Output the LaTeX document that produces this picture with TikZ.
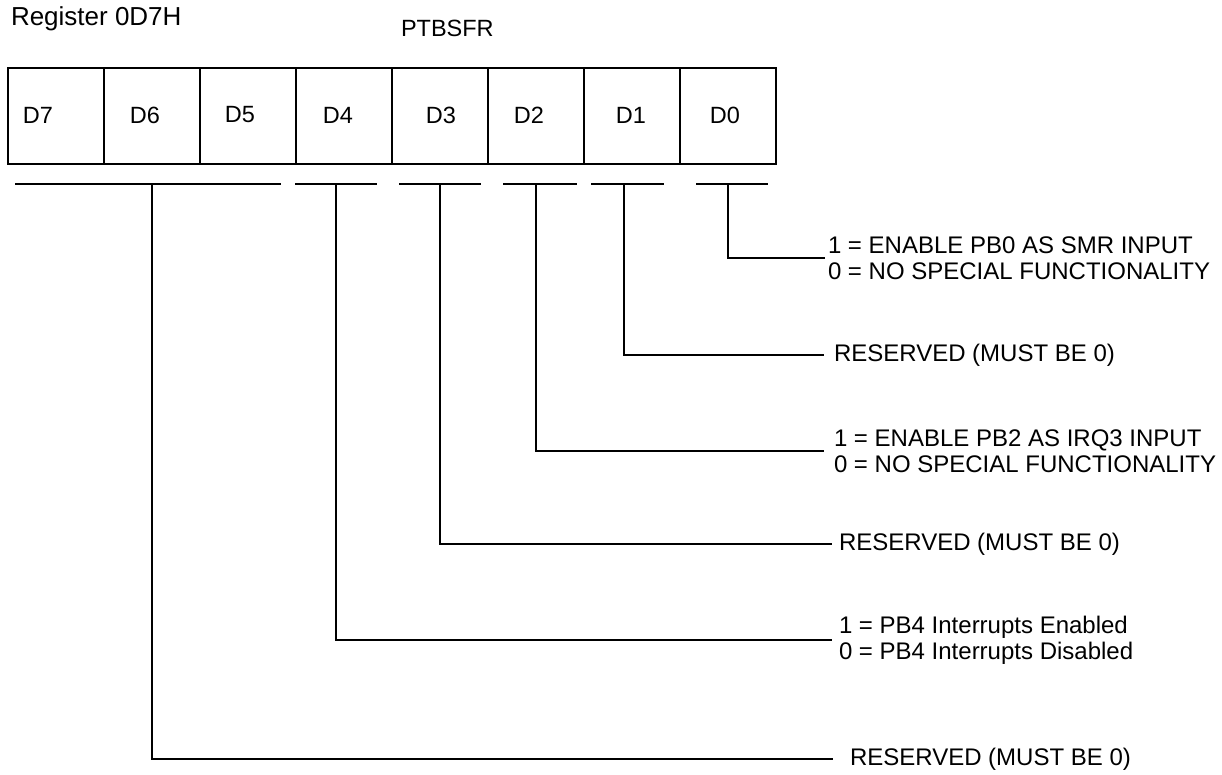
\documentclass[tikz,border=0pt]{standalone}
\usepackage{fontspec}
\setmainfont{Liberation Sans}
\usetikzlibrary{positioning}

\begin{document}
\begin{tikzpicture}[
        x=0.5pt, y=-0.5pt,
        line width=1pt,
        every node/.style={font=\fontsize{11.75}{12.5}\selectfont},
        cell/.style={draw, rectangle, minimum width=48pt, minimum height=48pt, inner sep=0pt, anchor=north west},
        bitname/.style={inner sep=0pt},
        desc/.style={anchor=west, align=left, inner sep=0pt, font=\fontsize{12}{13}\selectfont}
    ]
    \useasboundingbox (0,0) rectangle (1222,775);
    % titles
    \node[anchor=west, inner sep=0pt, font=\fontsize{13}{14}\selectfont] (reg) at (10,19) {Register 0D7H};
    \node[anchor=west, inner sep=0pt] (sfr) at (400,28) {PTBSFR};
    % register cells
    \foreach \b/\x/\t in {7/7/38, 6/103/145, 5/199/240, 4/295/338, 3/391/441, 2/487/529, 1/583/631, 0/679/725} {
        \node[cell] (c\b) at (\x,67) {};
        \node[bitname] (t\b) at (\t,115) {D\b};
    }
    % field brackets
    \draw (15,184) -- (281,184);
    \draw (295,184) -- (377,184);
    \draw (399,184) -- (481,184);
    \draw (503,184) -- (577,184);
    \draw (591,184) -- (664,184);
    \draw (696,184) -- (768,184);
    \coordinate (b7) at (152,184);
    \coordinate (b4) at (336,184);
    \coordinate (b3) at (440,184);
    \coordinate (b2) at (536,184);
    \coordinate (b1) at (624,184);
    \coordinate (b0) at (728,184);
    % descriptions
    \coordinate (e0) at (825,258);
    \node[desc, right=1pt of e0] (l0) {1 = ENABLE PB0 AS SMR INPUT\\0 = NO SPECIAL FUNCTIONALITY};
    \coordinate (e1) at (824,355);
    \node[desc, right=4.5pt of e1] (l1) {RESERVED (MUST BE 0)};
    \coordinate (e2) at (824,451);
    \node[desc, right=4.5pt of e2] (l2) {1 = ENABLE PB2 AS IRQ3 INPUT\\0 = NO SPECIAL FUNCTIONALITY};
    \coordinate (e3) at (832,544);
    \node[desc, right=3pt of e3] (l3) {RESERVED (MUST BE 0)};
    \coordinate (e4) at (832,640);
    \node[desc, right=3pt of e4] (l4) {1 = PB4 Interrupts Enabled\\0 = PB4 Interrupts Disabled};
    \coordinate (e7) at (833,759);
    \node[desc, right=8pt of e7] (l7) {RESERVED (MUST BE 0)};
    % leaders
    \draw (b0) |- (e0);
    \draw (b1) |- (e1);
    \draw (b2) |- (e2);
    \draw (b3) |- (e3);
    \draw (b4) |- (e4);
    \draw (b7) |- (e7);
\end{tikzpicture}
\end{document}
